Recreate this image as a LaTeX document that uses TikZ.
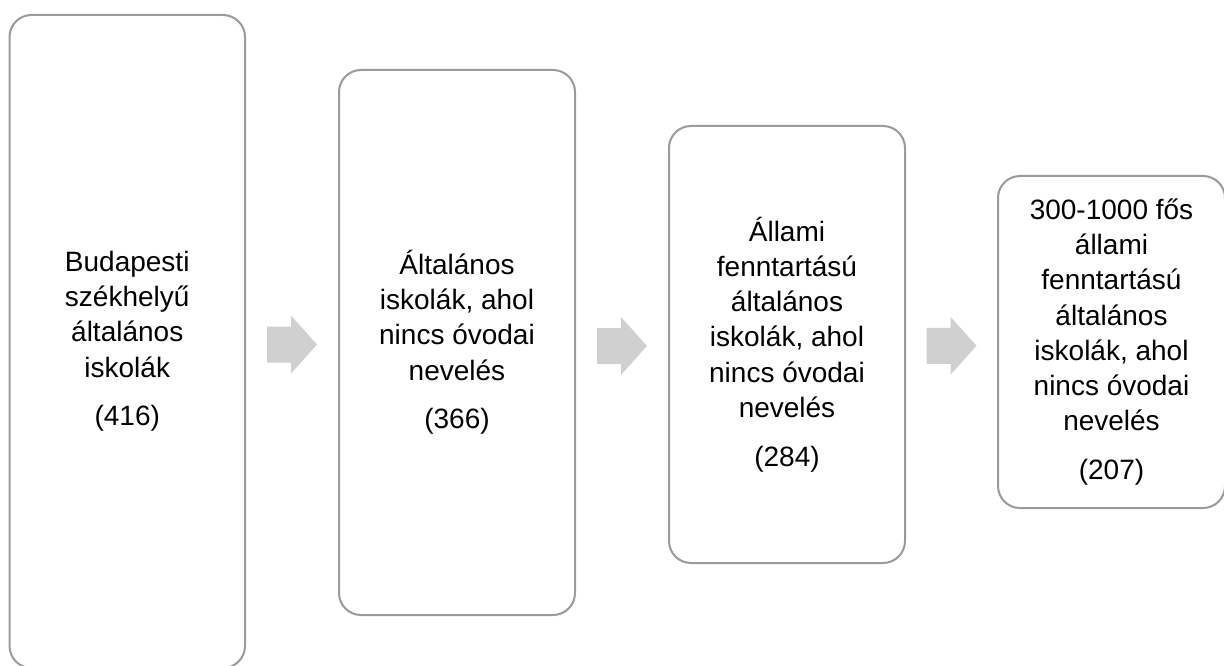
\documentclass[tikz,border=0pt]{standalone}
\usepackage{fontspec}
\setmainfont{Liberation Sans}
\usetikzlibrary{calc}
\definecolor{boxline}{HTML}{9A9A9A}
\definecolor{arrowfill}{HTML}{D0D0D0}
\tikzset{
  stagebox/.style={draw=boxline, line width=2pt, rounded corners=22pt, fill=white,
    inner sep=0pt, align=center, font=\fontsize{28pt}{35.2pt}\selectfont},
  blockarrow/.pic={
    \fill[arrowfill] (-25,-18) -- (-1,-18) -- (-1,-29) -- (25,0) -- (-1,29) -- (-1,18) -- (-25,18) -- cycle;
  }
}
\begin{document}
\begin{tikzpicture}[x=1pt,y=-1pt]
\useasboundingbox (0,0) rectangle (1224,666);
\fill[white] (0,0) rectangle (1224,666);
\begin{scope}
\clip (0,0) rectangle (1224,666);
\node[stagebox, minimum width=235.5pt, minimum height=653pt] (b1) at (127.25,341.5)
  {Budapesti\\ székhelyű\\ általános\\ iskolák\\[13.5pt] (416)};
\node[stagebox, minimum width=236pt, minimum height=545pt] (b2) at (457,342.5)
  {Általános\\ iskolák, ahol\\ nincs óvodai\\ nevelés\\[13.5pt] (366)};
\node[stagebox, minimum width=236pt, minimum height=437pt] (b3) at (787,344.5)
  {Állami\\ fenntartású\\ általános\\ iskolák, ahol\\ nincs óvodai\\ nevelés\\[13.5pt] (284)};
\node[stagebox, minimum width=227pt, minimum height=332pt] (b4) at (1111.5,342)
  {300-1000 fős\\ állami\\ fenntartású\\ általános\\ iskolák, ahol\\ nincs óvodai\\ nevelés\\[13.5pt] (207)};
\end{scope}
\path ($(b1.east)!0.5!(b2.west)$) ++(0,2.5) pic {blockarrow};
\path ($(b2.east)!0.5!(b3.west)$) ++(0,2.5) pic {blockarrow};
\path ($(b3.east)!0.5!(b4.west)$) ++(0,2.5) pic {blockarrow};
\end{tikzpicture}
\end{document}
